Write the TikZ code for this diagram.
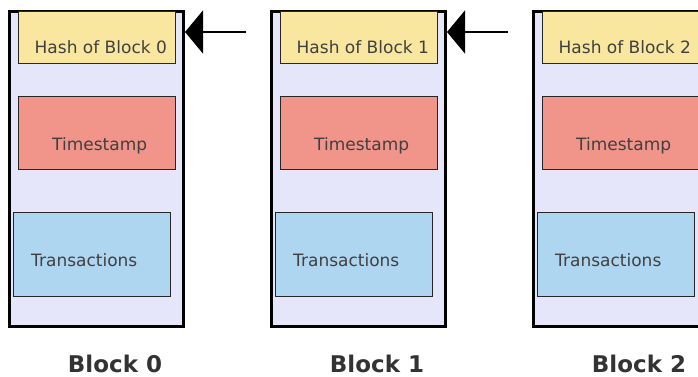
\documentclass[tikz,border=0pt]{standalone}
\usepackage{fontspec}
\setmainfont{DejaVu Sans}
\usetikzlibrary{arrows.meta,positioning}
\definecolor{Lav}{HTML}{E6E6FA}
\definecolor{Sand}{HTML}{F9E79F}
\definecolor{Salmon}{HTML}{F1948A}
\definecolor{Sky}{HTML}{AED6F1}
\definecolor{Ink}{HTML}{404040}
\tikzset{
 blk/.style={draw=black,fill=Lav,line width=3pt,minimum width=174pt,minimum height=315pt,inner sep=0pt},
 part/.style={draw=black!85,line width=0.9pt,minimum width=157pt,inner sep=0pt},
 hashbox/.style={part,fill=Sand,minimum height=52pt},
 timebox/.style={part,fill=Salmon,minimum height=73pt},
 txbox/.style={part,fill=Sky,minimum height=84pt},
 txt/.style={text=Ink,font=\fontsize{17}{20}\selectfont,inner sep=0pt,anchor=base west},
 lbl/.style={text=Ink!80!black,font=\bfseries\fontsize{23}{27}\selectfont,inner sep=0pt,anchor=base},
 arr/.style={-{Triangle[length=18pt,width=43pt]},line width=1.3pt}
}
\begin{document}
\begin{tikzpicture}[x=1pt,y=-1pt]
\useasboundingbox (0,0) rectangle (698,377);
\clip (0,0) rectangle (698,377);
\foreach \i in {0,1,2}{
 \pgfmathsetmacro\x{262*\i}
 \node[blk] (b\i) at (\x+96.5,169) {};
 \node[hashbox] (h\i) at (\x+97,37.5) {};
 \node[timebox] (t\i) at (\x+97,133) {};
 \node[txbox] (x\i) at (\x+92,254.5) {};
 \node[txt] (hl\i) at (\x+34.5,53.5) {Hash of Block \i};
 \node[txt] (tl\i) at (\x+52,150) {Timestamp};
 \node[txt] (xl\i) at (\x+31,266.5) {Transactions};
 \node[lbl] (l\i) at (\x+115,372) {Block \i};
}
\foreach \i in {0,1}{
 \coordinate (a\i) at (262*\i+246,32);
 \draw[arr] (a\i) -- (a\i -| b\i.east);
}
\end{tikzpicture}
\end{document}
